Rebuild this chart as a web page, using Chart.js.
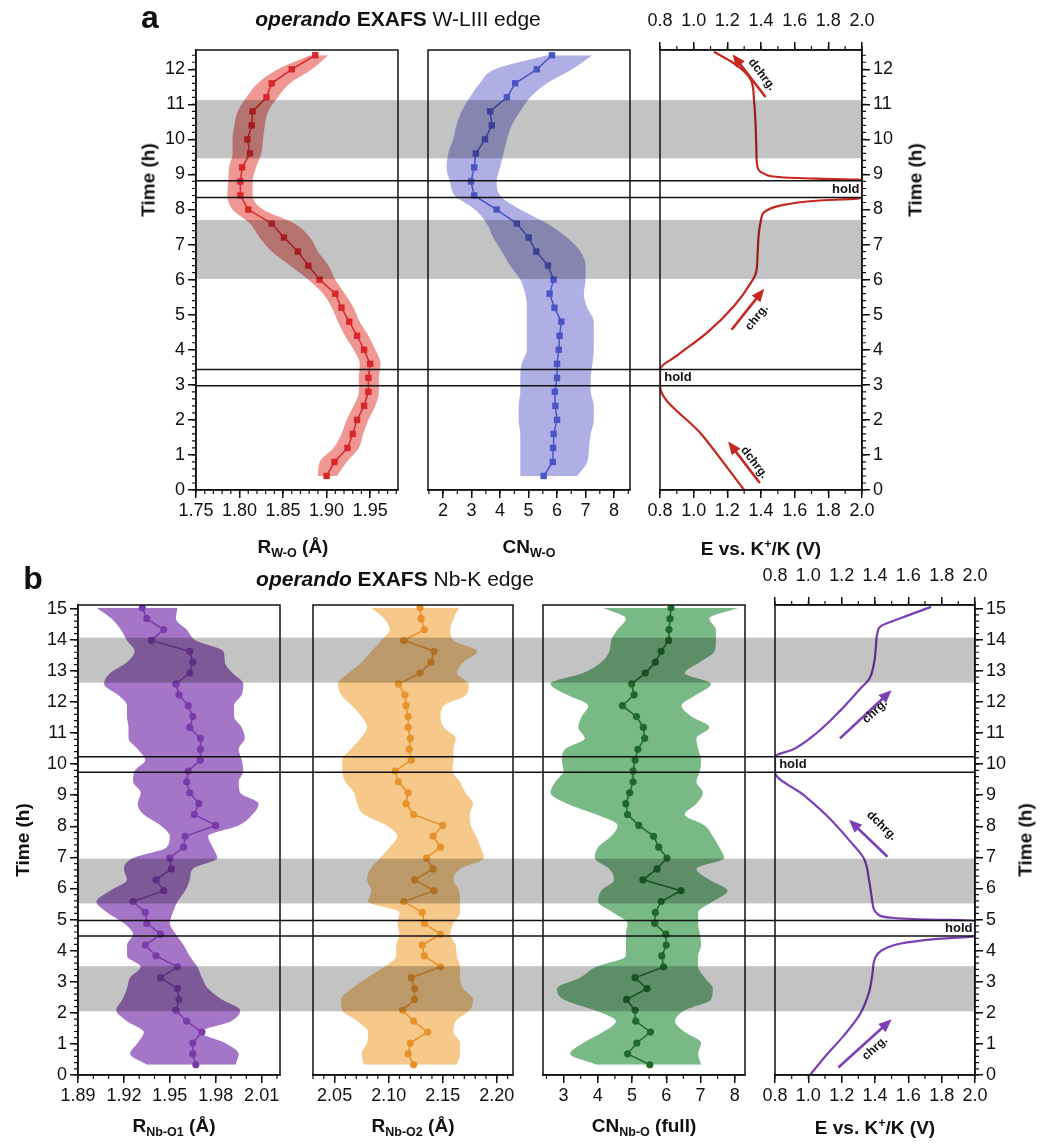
<!DOCTYPE html>
<html>
<head>
<meta charset="utf-8">
<script src="https://cdn.jsdelivr.net/npm/chart.js"></script>
<style>
html, body { margin: 0; padding: 0; background: #fff; }
#wrap { position: relative; width: 1045px; height: 1145px; font-family: 'Liberation Sans', Arial, sans-serif; color: #111; }
canvas { position: absolute; left: 0; }
.t { position: absolute; white-space: nowrap; line-height: 1; transform: translate(-50%, -50%); }
.lbl { font-weight: bold; font-size: 19px; }
.rot { transform: translate(-50%, -50%) rotate(-90deg); }
sub { font-size: 0.66em; vertical-align: -0.35em; }
sup { font-size: 0.66em; vertical-align: 0.6em; }
</style>
</head>
<body>
<div id="wrap">
  <canvas id="chartA" width="1045" height="540" style="top:0"></canvas>
  <canvas id="chartB" width="1045" height="605" style="top:540px"></canvas>

  <div class="t" style="left:150px;top:17px;font-size:32px;font-weight:bold">a</div>
  <div class="t" style="left:398px;top:18px;font-size:21px"><b><i>operando</i> EXAFS</b> W-LIII edge</div>
  <div class="t lbl rot" style="left:148px;top:180px">Time (h)</div>
  <div class="t lbl rot" style="left:915px;top:180px">Time (h)</div>
  <div class="t lbl" style="left:293px;top:548px">R<sub>W-O</sub> (Å)</div>
  <div class="t lbl" style="left:529px;top:548px">CN<sub>W-O</sub></div>
  <div class="t lbl" style="left:761px;top:548px">E vs. K<sup>+</sup>/K (V)</div>

  <div class="t" style="left:33px;top:578px;font-size:32px;font-weight:bold">b</div>
  <div class="t" style="left:395px;top:578px;font-size:21px"><b><i>operando</i> EXAFS</b> Nb-K edge</div>
  <div class="t lbl rot" style="left:22px;top:840px">Time (h)</div>
  <div class="t lbl rot" style="left:1025px;top:840px">Time (h)</div>
  <div class="t lbl" style="left:174px;top:1127px">R<sub>Nb-O1</sub> (Å)</div>
  <div class="t lbl" style="left:413px;top:1127px">R<sub>Nb-O2</sub> (Å)</div>
  <div class="t lbl" style="left:644px;top:1127px">CN<sub>Nb-O</sub> (full)</div>
  <div class="t lbl" style="left:875px;top:1127px">E vs. K<sup>+</sup>/K (V)</div>
</div>

<script>
// ---- panel a : W-LIII edge, one fit every 0.4 h ----
const timeA = [0.4, 0.8, 1.2, 1.6, 2.0, 2.4, 2.8, 3.2, 3.6, 4.0, 4.4, 4.8, 5.2, 5.6, 6.0, 6.4, 6.8, 7.2, 7.6, 8.0, 8.4, 8.8, 9.2, 9.6, 10.0, 10.4, 10.8, 11.2, 11.6, 12.0, 12.4];
const rWO = [1.900, 1.909, 1.924, 1.930, 1.935, 1.943, 1.948, 1.948, 1.950, 1.943, 1.935, 1.926, 1.917, 1.910, 1.892, 1.879, 1.867, 1.851, 1.837, 1.810, 1.801, 1.801, 1.803, 1.812, 1.809, 1.814, 1.815, 1.831, 1.837, 1.860, 1.887];
const rWOlow = [1.890, 1.892, 1.908, 1.917, 1.923, 1.931, 1.937, 1.937, 1.938, 1.931, 1.921, 1.913, 1.906, 1.896, 1.879, 1.858, 1.837, 1.823, 1.812, 1.792, 1.786, 1.787, 1.788, 1.792, 1.792, 1.794, 1.798, 1.808, 1.821, 1.844, 1.881];
const rWOhigh = [1.912, 1.923, 1.937, 1.942, 1.948, 1.956, 1.960, 1.960, 1.962, 1.956, 1.948, 1.938, 1.931, 1.921, 1.910, 1.902, 1.890, 1.881, 1.863, 1.827, 1.815, 1.815, 1.819, 1.825, 1.827, 1.829, 1.833, 1.844, 1.858, 1.883, 1.902];
const cnWO = [5.53, 5.85, 5.86, 5.88, 6.00, 5.94, 5.92, 6.00, 6.00, 6.06, 6.09, 6.15, 5.91, 5.74, 5.88, 5.68, 5.27, 5.00, 4.59, 3.88, 3.09, 2.98, 3.09, 3.15, 3.47, 3.71, 3.65, 4.24, 4.53, 5.29, 5.82];
const cnWOlow = [4.71, 4.71, 4.71, 4.71, 4.65, 4.65, 4.71, 4.71, 4.76, 4.94, 4.94, 4.94, 4.94, 4.88, 4.71, 4.35, 4.06, 3.76, 3.53, 3.12, 2.41, 2.24, 2.12, 2.18, 2.35, 2.47, 2.65, 2.94, 3.29, 3.82, 5.65];
const cnWOhigh = [6.71, 7.06, 7.12, 7.18, 7.29, 7.29, 7.18, 7.18, 7.24, 7.29, 7.29, 7.29, 7.06, 6.94, 7.00, 7.00, 6.82, 6.35, 5.65, 4.71, 4.00, 3.88, 4.00, 4.12, 4.24, 4.41, 4.71, 5.06, 5.65, 6.53, 7.24];
const echemTimeA = [0, 1.57, 2.97, 3.44, 3.83, 4.49, 5.25, 5.91, 6.19, 6.75, 7.32, 7.70, 7.93, 8.12, 8.25, 8.31, 8.34, 8.82, 8.85, 8.88, 8.92, 9.02, 9.21, 9.58, 10.53, 11.09, 11.66, 11.94, 12.23, 12.50];
const echemVoltA = [1.30, 1.05, 0.80, 0.80, 0.90, 1.08, 1.24, 1.34, 1.37, 1.38, 1.387, 1.40, 1.42, 1.52, 1.73, 1.97, 2.00, 2.00, 1.97, 1.73, 1.52, 1.42, 1.38, 1.373, 1.367, 1.359, 1.343, 1.30, 1.22, 1.12];
const bandsA = [[6.02, 7.70], [9.46, 11.12]];
const holdsA = [2.97, 3.44, 8.34, 8.82];
// [V start, t start, V end, t end, label, V label, t label]
const arrowsA = [[1.393, 0.20, 1.205, 1.38, 'dchrg.', 1.36, 0.78], [1.225, 4.57, 1.419, 5.74, 'chrg.', 1.375, 4.92], [1.427, 11.21, 1.231, 12.43, 'dchrg.', 1.405, 11.85]];
const holdTextA = [[0.825, 3.205, 'left'], [1.985, 8.58, 'right']];

// ---- panel b : Nb-K edge ----
const timeB = [0.33, 0.68, 1.03, 1.38, 1.73, 2.08, 2.43, 2.78, 3.13, 3.48, 3.83, 4.18, 4.53, 4.88, 5.23, 5.58, 5.93, 6.28, 6.63, 6.98, 7.33, 7.68, 8.03, 8.38, 8.73, 9.08, 9.43, 9.78, 10.13, 10.48, 10.83, 11.18, 11.53, 11.88, 12.23, 12.58, 12.93, 13.28, 13.63, 13.98, 14.33, 14.68, 15.03];
const rNbO1 = [1.967, 1.965, 1.965, 1.971, 1.961, 1.954, 1.956, 1.955, 1.944, 1.955, 1.941, 1.934, 1.944, 1.935, 1.934, 1.926, 1.946, 1.941, 1.951, 1.950, 1.959, 1.960, 1.980, 1.966, 1.969, 1.963, 1.961, 1.962, 1.970, 1.970, 1.970, 1.963, 1.965, 1.962, 1.956, 1.954, 1.963, 1.965, 1.963, 1.938, 1.946, 1.935, 1.932];
const rNbO1low = [1.935, 1.924, 1.929, 1.933, 1.922, 1.915, 1.919, 1.922, 1.924, 1.931, 1.922, 1.922, 1.926, 1.920, 1.909, 1.902, 1.911, 1.922, 1.920, 1.926, 1.948, 1.950, 1.944, 1.933, 1.929, 1.931, 1.926, 1.927, 1.934, 1.929, 1.923, 1.923, 1.922, 1.922, 1.916, 1.907, 1.911, 1.922, 1.927, 1.922, 1.918, 1.912, 1.902];
const rNbO1high = [1.993, 1.995, 1.986, 1.970, 1.990, 1.996, 1.984, 1.975, 1.971, 1.968, 1.963, 1.959, 1.954, 1.950, 1.952, 1.955, 1.960, 1.963, 1.965, 1.981, 1.978, 1.975, 1.995, 2.004, 2.008, 1.996, 1.995, 1.998, 1.997, 1.995, 1.999, 1.997, 1.992, 1.992, 1.997, 1.998, 1.991, 1.986, 1.985, 1.967, 1.961, 1.954, 1.955];
const rNbO2 = [2.123, 2.118, 2.120, 2.136, 2.123, 2.113, 2.124, 2.124, 2.121, 2.148, 2.133, 2.131, 2.148, 2.133, 2.131, 2.114, 2.142, 2.124, 2.141, 2.135, 2.148, 2.141, 2.150, 2.123, 2.116, 2.118, 2.109, 2.106, 2.121, 2.119, 2.120, 2.118, 2.118, 2.116, 2.115, 2.109, 2.129, 2.139, 2.142, 2.114, 2.133, 2.130, 2.129];
const rNbO2low = [2.077, 2.075, 2.080, 2.081, 2.071, 2.057, 2.056, 2.066, 2.080, 2.096, 2.107, 2.107, 2.110, 2.108, 2.110, 2.081, 2.084, 2.080, 2.083, 2.092, 2.101, 2.108, 2.098, 2.077, 2.071, 2.068, 2.060, 2.057, 2.057, 2.065, 2.074, 2.080, 2.075, 2.066, 2.056, 2.053, 2.063, 2.075, 2.084, 2.093, 2.101, 2.096, 2.084];
const rNbO2high = [2.163, 2.166, 2.166, 2.160, 2.162, 2.175, 2.178, 2.169, 2.166, 2.166, 2.163, 2.162, 2.157, 2.160, 2.166, 2.166, 2.165, 2.160, 2.166, 2.188, 2.185, 2.181, 2.176, 2.175, 2.178, 2.171, 2.166, 2.159, 2.160, 2.160, 2.162, 2.151, 2.148, 2.151, 2.172, 2.174, 2.163, 2.169, 2.182, 2.160, 2.157, 2.160, 2.165];
const cnNbO = [5.52, 4.87, 5.14, 5.54, 5.11, 5.09, 4.84, 5.44, 5.09, 5.92, 5.87, 6.00, 5.99, 5.66, 5.68, 5.85, 6.43, 5.32, 5.73, 6.02, 5.78, 5.63, 5.20, 4.87, 4.82, 4.93, 5.03, 5.03, 5.09, 5.17, 5.37, 5.33, 5.13, 4.72, 5.06, 4.99, 5.39, 5.68, 5.85, 6.07, 6.08, 6.11, 6.14];
const cnNbOlow = [3.96, 3.19, 3.57, 4.15, 4.53, 3.91, 3.00, 2.81, 3.48, 3.96, 4.82, 4.82, 4.82, 4.87, 4.44, 4.01, 4.10, 4.48, 4.34, 3.91, 4.01, 4.39, 4.58, 3.96, 3.10, 2.62, 2.76, 3.00, 2.95, 3.05, 3.62, 3.43, 3.53, 3.72, 3.10, 2.62, 3.57, 4.10, 4.34, 4.39, 4.58, 4.82, 4.15];
const cnNbOhigh = [7.02, 6.93, 7.02, 6.54, 6.26, 6.54, 7.31, 7.36, 7.12, 6.93, 6.93, 7.02, 6.98, 6.93, 6.93, 7.36, 7.79, 7.26, 6.88, 7.69, 7.55, 7.36, 7.12, 6.54, 6.88, 7.07, 6.88, 6.98, 7.02, 6.93, 6.88, 7.26, 6.74, 6.45, 6.88, 7.31, 6.54, 6.98, 7.41, 7.45, 7.45, 7.26, 8.12];
const echemTimeB = [0, 0.65, 1.25, 1.96, 2.68, 3.27, 3.75, 3.99, 4.23, 4.37, 4.47, 4.97, 5.00, 5.05, 5.18, 5.54, 6.25, 6.96, 7.50, 8.33, 9.01, 9.74, 10.24, 10.48, 11.01, 11.73, 12.44, 12.74, 13.27, 13.75, 14.23, 14.44, 14.70, 15.06];
const echemVoltB = [1.01, 1.11, 1.21, 1.31, 1.365, 1.385, 1.40, 1.435, 1.556, 1.758, 2.00, 2.00, 1.717, 1.516, 1.415, 1.385, 1.365, 1.334, 1.254, 1.113, 0.971, 0.80, 0.80, 0.911, 1.052, 1.193, 1.314, 1.365, 1.395, 1.405, 1.415, 1.435, 1.556, 1.737];
const bandsB = [[2.05, 3.50], [5.52, 6.96], [12.62, 14.07]];
const holdsB = [4.47, 4.97, 9.74, 10.24];
const arrowsB = [[1.18, 0.24, 1.50, 1.79, 'chrg.', 1.40, 0.86], [1.475, 7.02, 1.244, 8.21, 'dchrg.', 1.44, 8.02], [1.19, 10.83, 1.50, 12.38, 'chrg.', 1.40, 11.70]];
const holdTextB = [[0.825, 9.99, 'left'], [1.985, 4.72, 'right']];

const INK = '#111';
const TICK_FONT = { family: "'Liberation Sans Narrow','Liberation Sans',Arial,sans-serif", size: 18 };

function xAxis(min, max, step, digits, pos, size, pad){
  const ax = {
    type: 'linear', position: pos, min, max,
    afterFit: s => { s.height = size; },
    border: { display: true, color: INK, width: 1.5 },
    grid: { drawOnChartArea: false, tickLength: 8, color: INK, lineWidth: 1.5 },
    ticks: { stepSize: step, includeBounds: false, autoSkip: false, maxRotation: 0, padding: pad, color: INK, font: TICK_FONT, callback: v => v.toFixed(digits) }
  };
  if(pos === 'bottom'){ ax.stack = 'bottom'; }
  return ax;
}
function yAxis(max, pos, width){
  return {
    type: 'linear', position: pos, min: 0, max,
    afterFit: s => { s.width = width; },
    border: { display: true, color: INK, width: 1.5 },
    grid: { drawOnChartArea: false, tickLength: 8, color: INK, lineWidth: 1.5 },
    ticks: { stepSize: 1, includeBounds: false, autoSkip: false, padding: 3, color: INK, font: TICK_FONT }
  };
}
function envelope(times, lo, hi, xid, color){
  const base = { xAxisID: xid, yAxisID: 'y', order: 2, borderWidth: 0, borderColor: 'transparent', pointRadius: 0, cubicInterpolationMode: 'monotone' };
  return [
    { ...base, data: times.map((t, i) => ({ x: lo[i], y: t })), fill: '+1', backgroundColor: color },
    { ...base, data: times.map((t, i) => ({ x: hi[i], y: t })), fill: false }
  ];
}
function series(times, vals, xid, color, style){
  return { data: times.map((t, i) => ({ x: vals[i], y: t })), xAxisID: xid, yAxisID: 'y', order: 1,
    borderColor: color, backgroundColor: color, borderWidth: 1.5, pointStyle: style,
    pointRadius: style === 'rect' ? 4.5 : 3.6, pointBorderWidth: 0, tension: 0, fill: false };
}
function echem(times, volts, xid, color){
  return { data: times.map((t, i) => ({ x: volts[i], y: t })), xAxisID: xid, yAxisID: 'y', order: 1,
    borderColor: color, borderWidth: 2.2, pointRadius: 0, cubicInterpolationMode: 'monotone', fill: false };
}

// panels side by side on one time axis; bands, hold lines, frames, arrows, minor ticks
function makeDeco(o){
  return {
    id: 'deco',
    afterLayout(chart){
      o.panels.forEach(([l, r, ...ids]) => ids.forEach(id => {
        const s = chart.scales[id];
        s.left = l; s.right = r; s.width = r - l;
        s.configure();
      }));
    },
    afterDatasetsDraw(chart){
      const { ctx, chartArea: a, scales } = chart;
      const Y = v => scales.y.getPixelForValue(v);
      const E = scales[o.eAxis];
      ctx.save();
      ctx.fillStyle = 'rgba(0,0,0,0.235)';
      o.bands.forEach(([t0, t1]) => ctx.fillRect(a.left, Y(t1), a.right - a.left, Y(t0) - Y(t1)));
      ctx.strokeStyle = INK; ctx.lineWidth = 1.5;
      o.holds.forEach(t => { ctx.beginPath(); ctx.moveTo(a.left, Y(t)); ctx.lineTo(a.right, Y(t)); ctx.stroke(); });
      o.panels.forEach(([l, r]) => ctx.strokeRect(l, a.top, r - l, a.bottom - a.top));

      o.arrows.forEach(([v0, t0, v1, t1, txt, vl, tl]) => {
        const x0 = E.getPixelForValue(v0), y0 = Y(t0), x1 = E.getPixelForValue(v1), y1 = Y(t1);
        const ang = Math.atan2(y1 - y0, x1 - x0), head = 13, half = 5.5;
        ctx.strokeStyle = o.color; ctx.fillStyle = o.color; ctx.lineWidth = 2.6;
        ctx.beginPath(); ctx.moveTo(x0, y0);
        ctx.lineTo(x1 - Math.cos(ang) * head * 0.8, y1 - Math.sin(ang) * head * 0.8); ctx.stroke();
        ctx.beginPath(); ctx.moveTo(x1, y1);
        ctx.lineTo(x1 - head * Math.cos(ang) + half * Math.sin(ang), y1 - head * Math.sin(ang) - half * Math.cos(ang));
        ctx.lineTo(x1 - head * Math.cos(ang) - half * Math.sin(ang), y1 - head * Math.sin(ang) + half * Math.cos(ang));
        ctx.closePath(); ctx.fill();
        let r = ang;
        if(r > Math.PI / 2){ r -= Math.PI; }
        if(r < -Math.PI / 2){ r += Math.PI; }
        ctx.save();
        ctx.translate(E.getPixelForValue(vl), Y(tl)); ctx.rotate(r);
        ctx.fillStyle = INK; ctx.font = "bold 12px 'Liberation Sans', Arial, sans-serif";
        ctx.textAlign = 'center'; ctx.textBaseline = 'middle';
        ctx.fillText(txt, 0, 0);
        ctx.restore();
      });
      ctx.fillStyle = INK; ctx.font = "bold 13px 'Liberation Sans', Arial, sans-serif"; ctx.textBaseline = 'middle';
      o.holdText.forEach(([v, t, align]) => { ctx.textAlign = align; ctx.fillText('hold', E.getPixelForValue(v), Y(t)); });
      ctx.restore();
    },
    afterDraw(chart){
      const ctx = chart.ctx;
      ctx.save(); ctx.strokeStyle = INK; ctx.lineWidth = 1.2;
      o.minor.forEach(([id, step]) => {
        const s = chart.scales[id];
        ctx.beginPath();
        for(let k = Math.ceil(s.min / step - 1e-6); k * step <= s.max + 1e-9; k++){
          const p = s.getPixelForValue(k * step);
          if(s.position === 'bottom'){ ctx.moveTo(p, s.top); ctx.lineTo(p, s.top + 4); }
          else if(s.position === 'top'){ ctx.moveTo(p, s.bottom); ctx.lineTo(p, s.bottom - 4); }
          else if(s.position === 'left'){ ctx.moveTo(s.right, p); ctx.lineTo(s.right - 4, p); }
          else { ctx.moveTo(s.left, p); ctx.lineTo(s.left + 4, p); }
        }
        ctx.stroke();
      });
      ctx.restore();
    }
  };
}

const common = { responsive: false, animation: false, events: [], indexAxis: 'y',
  plugins: { legend: { display: false }, tooltip: { enabled: false } } };

new Chart(document.getElementById('chartA'), {
  type: 'line',
  data: { datasets: [
    series(timeA, rWO, 'x1', '#d8262a', 'rect'),
    series(timeA, cnWO, 'x2', '#4a55c4', 'rect'),
    echem(echemTimeA, echemVoltA, 'x3', '#c4281f'),
    ...envelope(timeA, rWOlow, rWOhigh, 'x1', 'rgba(222,48,40,0.5)'),
    ...envelope(timeA, cnWOlow, cnWOhigh, 'x2', 'rgba(96,96,206,0.5)')
  ] },
  options: { ...common,
    layout: { padding: { left: 156, right: 143, top: 10, bottom: 5 } },
    scales: {
      y: yAxis(12.55, 'left', 40), y2: yAxis(12.55, 'right', 40),
      x1: xAxis(1.75, 1.982, 0.05, 2, 'bottom', 45, 2),
      x2: xAxis(1.47, 8.56, 1, 0, 'bottom', 45, 2),
      x3: xAxis(0.8, 2.0, 0.2, 1, 'bottom', 45, 2),
      xTop: xAxis(0.8, 2.0, 0.2, 1, 'top', 40, 10)
    } },
  plugins: [makeDeco({
    panels: [[196, 398, 'x1'], [428, 630, 'x2'], [660, 862, 'x3', 'xTop']],
    eAxis: 'x3', color: '#c4281f', bands: bandsA, holds: holdsA, arrows: arrowsA, holdText: holdTextA,
    minor: [['y', 0.2], ['y2', 0.2], ['x1', 0.01], ['x2', 0.5], ['x3', 0.1], ['xTop', 0.1]]
  })]
});

new Chart(document.getElementById('chartB'), {
  type: 'line',
  data: { datasets: [
    series(timeB, rNbO1, 'x1', '#7b3aa9', 'circle'),
    series(timeB, rNbO2, 'x2', '#e8922c', 'circle'),
    series(timeB, cnNbO, 'x3', '#1e6a2c', 'circle'),
    echem(echemTimeB, echemVoltB, 'x4', '#7b3fb6'),
    ...envelope(timeB, rNbO1low, rNbO1high, 'x1', 'rgba(122,52,172,0.68)'),
    ...envelope(timeB, rNbO2low, rNbO2high, 'x2', 'rgba(240,160,52,0.58)'),
    ...envelope(timeB, cnNbOlow, cnNbOhigh, 'x3', 'rgba(46,146,66,0.64)')
  ] },
  options: { ...common,
    layout: { padding: { left: 43, right: 35, top: 20, bottom: 25 } },
    scales: {
      y: yAxis(15.12, 'left', 35), y2: yAxis(15.12, 'right', 35),
      x1: xAxis(1.89, 2.022, 0.03, 2, 'bottom', 45, 2),
      x2: xAxis(2.03, 2.215, 0.05, 2, 'bottom', 45, 2),
      x3: xAxis(2.4, 8.3, 1, 0, 'bottom', 45, 2),
      x4: xAxis(0.8, 2.0, 0.2, 1, 'bottom', 45, 2),
      xTop: xAxis(0.8, 2.0, 0.2, 1, 'top', 45, 10)
    } },
  plugins: [makeDeco({
    panels: [[78, 280, 'x1'], [313, 513, 'x2'], [543, 745, 'x3'], [775, 975, 'x4', 'xTop']],
    eAxis: 'x4', color: '#7b3fb6', bands: bandsB, holds: holdsB, arrows: arrowsB, holdText: holdTextB,
    minor: [['y', 0.2], ['y2', 0.2], ['x1', 0.01], ['x2', 0.01], ['x3', 0.5], ['x4', 0.1], ['xTop', 0.1]]
  })]
});
</script>
</body>
</html>
